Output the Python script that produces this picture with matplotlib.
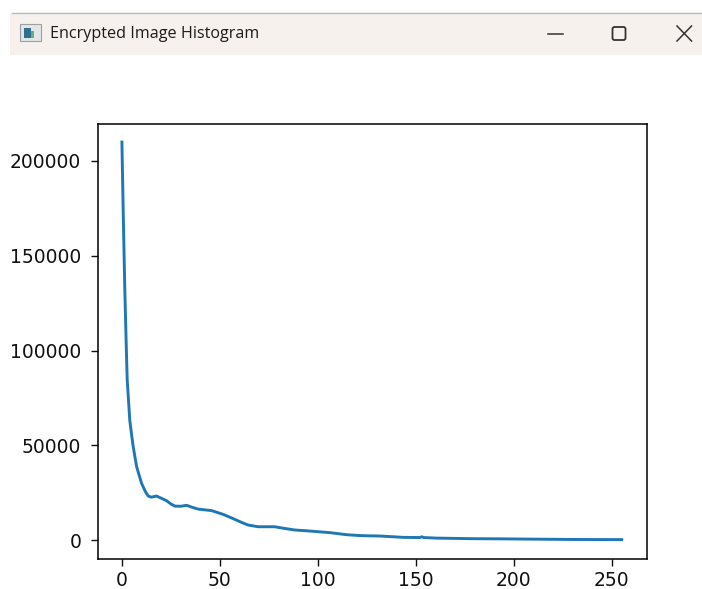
import matplotlib
matplotlib.use("Agg")
import matplotlib.pyplot as plt
from matplotlib.patches import Rectangle, FancyBboxPatch
from matplotlib.lines import Line2D

W, H = 702, 589

# histogram
bins = [0, 0.7, 1.5, 2.2, 2.7, 3.2, 4, 5, 5.8, 7.5, 10, 12, 13.4, 15, 17.6, 20, 22.8, 25, 27, 30, 33,
        36, 39, 45.8, 51.7, 57.6, 61, 64.4, 69.5, 78, 80.6, 88, 95, 106, 114.6, 122, 131.6, 143.5,
        152, 153, 154, 160.5, 178, 194, 210, 228, 242, 255]
counts = [210000, 171000, 131000, 103000, 84400, 76500, 63300, 55000, 49000, 38700, 30000, 25500, 23200,
          22600, 23200, 22100, 20700, 19000, 17900, 17800, 18300, 17200, 16300, 15500, 13500, 10900,
          9300, 7900, 7000, 7000, 6500, 5300, 4800, 3900, 2800, 2300, 2100, 1400, 1300, 1700, 1300,
          1000, 700, 600, 450, 300, 230, 200]
xtick_vals = [0, 50, 100, 150, 200, 250]
ytick_vals = [0, 50000, 100000, 150000, 200000]
window_title = "Encrypted Image Histogram"


def fx(px):
    return px / W


def fy(py):
    return 1 - py / H


def frect(fig, x0, y0, x1, y1, **kw):
    fig.add_artist(Rectangle((fx(x0), fy(y1)), (x1 - x0) / W, (y1 - y0) / H,
                             transform=fig.transFigure, **kw))


def fline(fig, xs, ys, **kw):
    fig.add_artist(Line2D([fx(v) for v in xs], [fy(v) for v in ys],
                          transform=fig.transFigure, **kw))


fig = plt.figure(figsize=(W / 100, H / 100), dpi=100)

# title bar of the window
frect(fig, 10, 13, 702, 55, facecolor="#f6f1ec", edgecolor="none")
fline(fig, [12, 702], [13, 13], color="#b9b9b9", lw=1.0)
frect(fig, 20, 24, 41, 41, facecolor="#e4e6e6", edgecolor="#9aa0a4", lw=0.8)
frect(fig, 24, 28, 31, 38, facecolor="#2f6f8f", edgecolor="none")
frect(fig, 31, 31, 34, 38, facecolor="#5fae8c", edgecolor="none")
fig.text(fx(50), fy(34.5), window_title, family="Open Sans", fontsize=11.6,
         color="#1c1c1c", ha="left", va="center")
fline(fig, [548, 563], [33.5, 33.5], color="#333333", lw=1.1)
fig.add_artist(FancyBboxPatch((612.5, H - 40), 13, 13, boxstyle="round,pad=0,rounding_size=2",
                              transform=None, facecolor="none", edgecolor="#333333", lw=1.3))
fline(fig, [677, 691.5], [26, 41], color="#333333", lw=1.1)
fline(fig, [677, 691.5], [41, 26], color="#333333", lw=1.1)

ax = fig.add_axes([98 / W, (H - 559) / H, 549 / W, 435 / H])
ax.plot(bins, counts, color="#1f77b4", lw=2.1)
ax.set_xlim(-12.2, 267.9)
ax.set_ylim(-10026, 219525)
ax.set_xticks(xtick_vals)
ax.set_yticks(ytick_vals)
ax.tick_params(labelsize=13.5, length=5, width=1.0, colors="#111111")
ax.tick_params(axis="y", pad=7)
for s in ax.spines.values():
    s.set_linewidth(1.1)

fig.savefig("out.png", dpi=100)
